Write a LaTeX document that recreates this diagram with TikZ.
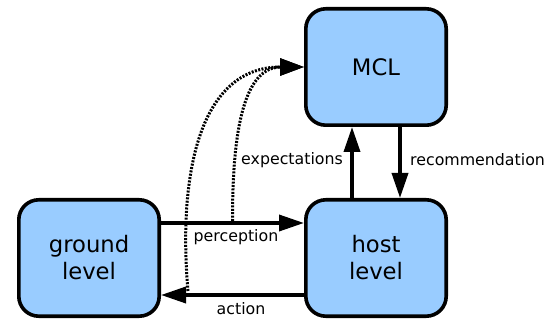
\documentclass[tikz,border=0pt]{standalone}
\usepackage{fontspec}
\setmainfont{DejaVu Sans}
\usetikzlibrary{arrows.meta}
\definecolor{boxblue}{HTML}{99CCFF}

\tikzset{
    level/.style={draw, line width=3.6pt, fill=boxblue, rounded corners=20pt,
        minimum width=140.4pt, minimum height=116.4pt, align=center,
        font=\fontsize{22.7}{27}\selectfont},
    flow/.style={line width=3.6pt, -{Triangle[length=25pt, width=16pt]}},
    hint/.style={line width=3pt, dash pattern=on 2pt off 1.4pt,
        -{Triangle[length=24pt, width=17pt]}},
    lbl/.style={font=\fontsize{15.8}{19}\selectfont, inner sep=0pt}
}

\begin{document}
\begin{tikzpicture}[x=1pt, y=-1pt]
        \useasboundingbox (0,0) rectangle (553,320);
        \node[level] (mcl) at (376, 67) {MCL};
        \node[level] (host) at (376, 258) {host\\level};
        \node[level] (ground) at (89, 258) {ground\\level};

        % ground <-> host
        \draw[flow] ([yshift=35pt]ground.east) -- coordinate[pos=0.5] (perc)
                ([yshift=35pt]host.west);
        \draw[flow] ([yshift=-37pt]host.west) -- ([yshift=-37pt]ground.east);
        \node[lbl] (perclbl) at (236, 237) {perception};
        \node[lbl] (actlbl) at (241, 309) {action};

        % host <-> MCL
        \draw[flow] ([xshift=-24pt]host.north) -- ([xshift=-24pt]mcl.south);
        \draw[flow] ([xshift=24pt]mcl.south) -- ([xshift=24pt]host.north);
        \node[lbl, anchor=east] (explbl) at (343, 160) {expectations};
        \node[lbl, anchor=west] (reclbl) at (410, 160) {recommendation};

        % expectations fed back to MCL
        \coordinate (act) at (188, 291);
        \draw[hint] ([yshift=2pt]perc) to[out=90, in=180] (mcl.west);
        \draw[hint] (act) to[out=95, in=180, looseness=1.1] (mcl.west);
    \end{tikzpicture}
\end{document}
